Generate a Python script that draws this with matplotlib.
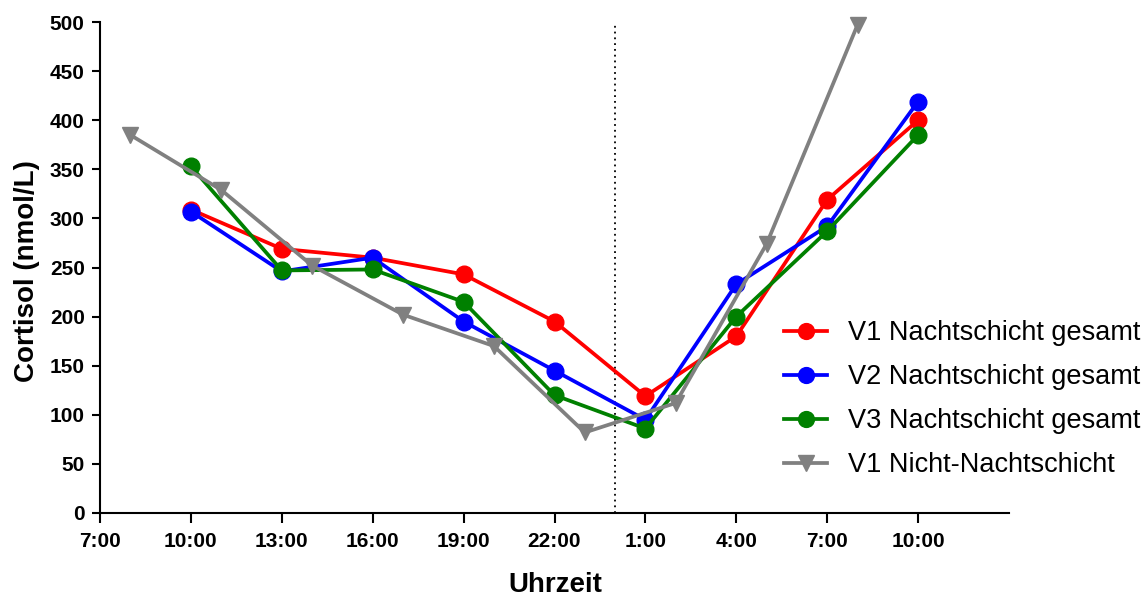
import matplotlib
matplotlib.use("Agg")
import matplotlib.pyplot as plt

plt.rcParams['font.family'] = ['Liberation Sans', 'DejaVu Sans']

# Data (hours since midnight of day 1; 25 = 1:00 next day)
hours_main = [10, 13, 16, 19, 22, 25, 28, 31, 34]
v1_nacht = [309, 269, 260, 243, 195, 119, 180, 319, 400]
v2_nacht = [307, 246, 260, 195, 145, 95, 233, 292, 419]
v3_nacht = [353, 247, 248, 215, 120, 86, 200, 287, 385]
hours_nicht = [8, 11, 14, 17, 20, 23, 26, 29, 32]
v1_nicht = [385, 329, 252, 202, 170, 82, 112, 274, 497]

series_labels = ["V1 Nachtschicht gesamt", "V2 Nachtschicht gesamt",
                 "V3 Nachtschicht gesamt", "V1 Nicht-Nachtschicht"]
tick_hours = [7, 10, 13, 16, 19, 22, 25, 28, 31, 34]
tick_labels = ["7:00", "10:00", "13:00", "16:00", "19:00", "22:00",
               "1:00", "4:00", "7:00", "10:00"]
midnight = 24

W, H = 1145, 601
fig = plt.figure(figsize=(W / 100, H / 100), dpi=100)
left, right, bottom, top = 100, 1009, 513, 22
ax = fig.add_axes([left / W, (H - bottom) / H, (right - left) / W, (bottom - top) / H])

lw = 2.7
ms = 12
ax.plot(hours_main, v1_nacht, color='#ff0000', lw=lw, marker='o', ms=ms, label=series_labels[0], clip_on=False, zorder=3)
ax.plot(hours_main, v2_nacht, color='#0000ff', lw=lw, marker='o', ms=ms, label=series_labels[1], clip_on=False, zorder=4)
ax.plot(hours_main, v3_nacht, color='#008000', lw=lw, marker='o', ms=ms, label=series_labels[2], clip_on=False, zorder=5)
ax.plot(hours_nicht, v1_nicht, color='#808080', lw=lw, marker='v', ms=ms, label=series_labels[3], clip_on=False, zorder=6)

ax.axvline(midnight, color='black', lw=1.3, linestyle=(0, (1, 2.2)), zorder=2)

ax.set_xlim(7, 37)
ax.set_ylim(0, 500)
ax.set_xticks(tick_hours)
ax.set_xticklabels(tick_labels)
ax.set_yticks(range(0, 501, 50))

for s in ['top', 'right']:
    ax.spines[s].set_visible(False)
for s in ['left', 'bottom']:
    ax.spines[s].set_linewidth(1.5)
ax.tick_params(axis='x', direction='out', length=7.5, width=1.5, labelsize=15, pad=6)
ax.tick_params(axis='y', direction='out', length=6, width=1.5, labelsize=15, pad=5)
for lab in ax.get_xticklabels() + ax.get_yticklabels():
    lab.set_fontweight('bold')

ax.set_xlabel("Uhrzeit", fontsize=20, fontweight='bold')
ax.set_ylabel("Cortisol (nmol/L)", fontsize=20, fontweight='bold')
ax.xaxis.label.set_va('center')
ax.yaxis.label.set_va('center')
ax.xaxis.set_label_coords((555 - left) / (right - left), (bottom - 585) / (bottom - top))
ax.yaxis.set_label_coords((27 - left) / (right - left), (bottom - 271.5) / (bottom - top))

leg = ax.legend(loc='upper left', bbox_to_anchor=(784 / W, (H - 320) / H),
                bbox_transform=fig.transFigure, frameon=False, fontsize=19.5,
                handlelength=1.6, handletextpad=0.75, labelspacing=0.67,
                borderaxespad=0, borderpad=0, markerscale=0.95)

fig.savefig("out.png", dpi=100)
